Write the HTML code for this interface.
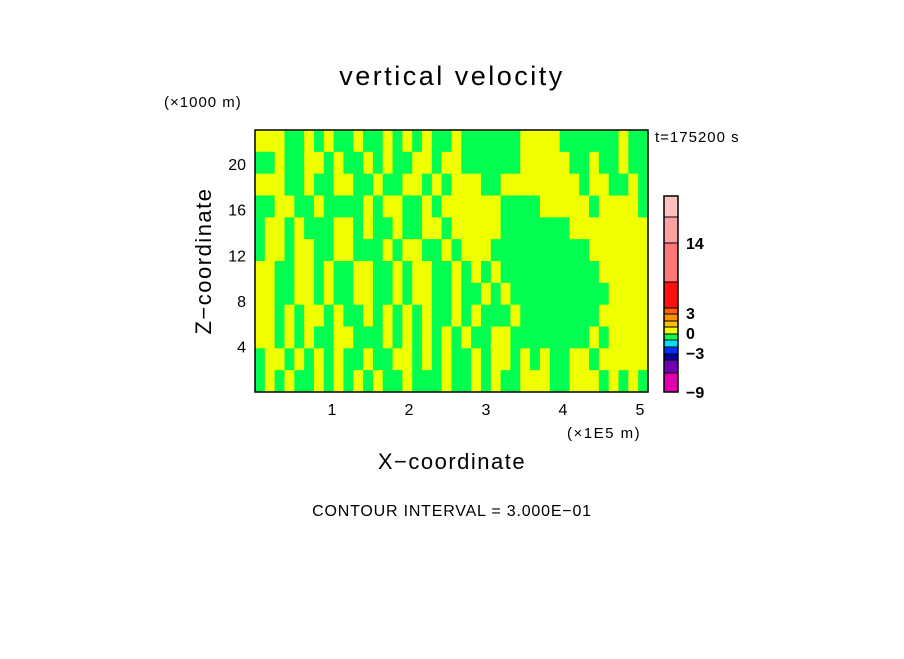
<!DOCTYPE html>
<html><head><meta charset="utf-8"><style>
body{margin:0;background:#fff}
svg text{font-family:"Liberation Sans",sans-serif;fill:#000}
</style></head><body>
<svg id="c" width="904" height="654">
<rect width="904" height="654" fill="#fff"/>
<text x="452" y="85" font-size="27" letter-spacing="2.5" text-anchor="middle">vertical velocity</text>
<text x="164" y="107" font-size="15" letter-spacing="1">(×1000 m)</text>
<text x="655" y="142" font-size="15" letter-spacing="1">t=175200 s</text>
<text transform="translate(211,261) rotate(-90)" font-size="22" letter-spacing="1.5" text-anchor="middle">Z−coordinate</text>
<text x="452" y="469" font-size="22" letter-spacing="1.5" text-anchor="middle">X−coordinate</text>
<text x="567" y="438" font-size="15" letter-spacing="1.5">(×1E5 m)</text>
<text x="452" y="516" font-size="16" letter-spacing="0.8" text-anchor="middle">CONTOUR INTERVAL = 3.000E−01</text>
<g id="field"></g>
<rect x="255" y="130" width="393" height="262" fill="none" stroke="#000" stroke-width="1.5"/>
<g id="ticks"></g>
<g id="cbar"></g>
</svg>
<script>
const xTicks=[1,2,3,4,5];
const zTicks=[4,8,12,16,20];
const fieldRows=[
"YYYGGYGYGGYGGYGYGYGGYGGGGGGYYYYGGGGGGYGG",
"GGYGGYYGYGGYGYGGYYGYYGGGGGGYYYYYGGYGGYGG",
"YYYGGYGGYYGGYGGYYGYGYYYGGYYYYYYYYGYYGGYG",
"GGYYGGYGGGGYGYYGGYGYYYYYYGGGGYYYYYGYYYYG",
"GYYGYGGGYYGYGGYGGYYGYYYYYGGGGGGGYYYYYYYY",
"GYYGYYGGYYGGGYGYYGGYGYYYGGGGGGGGGGYYYYYY",
"YYGGYYGYGGYYGGYGYYGGYGYGYGGGGGGGGGGYYYYY",
"YYGGYYGYGGYYGGYGYYGGYGGYGYGGGGGGGGGGYYYY",
"YYGYGYYGYGGYGYGYGYGGYGYGGGYGGGGGGGGYYYYY",
"YYGYGYGGYYGGGYGYGYGYGYGGYYGGGGGGGGYGYYYY",
"GYYGYGYGYGGYGGYYGYGYGGYGYYGYGYGGYYGYYYYY",
"GYGYGGYGYGYGYGGYGGGYGGYGYGGYYYGGYYYGYGYG"];
const cbarColors=["#e000b0","#7000b0","#0000a0","#0030ff","#00e0ff","#00ff50","#f0ff00","#ffc000","#ff9000","#ff6000","#ff1010","#ff7878","#ffa0a0","#ffc0c0"];
// colorbar boundary levels on the bar's (non-uniform) index scale
const cbarEdges=[0,19,32,38,45,52,58,65,71,78,84,110,149,175,196];
const cbarLabels=["−9","−3","0","3","14"];
const cbarLabelPos=[0,39,59,79,149];
const NS="http://www.w3.org/2000/svg";
const X0=255,X1=648,Y0=392,Y1=130;
const xS=v=>X0+v*77, zS=v=>Y0-v*(262/23);
const field=document.getElementById('field');
const nc=fieldRows[0].length,nr=fieldRows.length;
const cw=(X1-X0)/nc,rh=(Y0-Y1)/nr;
fieldRows.forEach((row,r)=>{for(let c=0;c<nc;c++){
 const e=document.createElementNS(NS,'rect');
 
 
 e.setAttribute('x',X0+c*cw);e.setAttribute('y',Y1+r*rh);
 e.setAttribute('width',cw+0.5);e.setAttribute('height',rh+0.5);
 e.setAttribute('fill',row[c]==='Y'?'#f0ff00':'#00ff50');
 field.appendChild(e);}});
const tk=document.getElementById('ticks');
xTicks.forEach(v=>{const t=document.createElementNS(NS,'text');
 
 
 t.setAttribute('x',xS(v));t.setAttribute('y',415);t.setAttribute('font-size','16');t.setAttribute('text-anchor','middle');t.textContent=v;tk.appendChild(t);});
zTicks.forEach(v=>{const t=document.createElementNS(NS,'text');
 
 
 t.setAttribute('x',246);t.setAttribute('y',zS(v)+6);t.setAttribute('font-size','16');t.setAttribute('text-anchor','end');t.textContent=v;tk.appendChild(t);});
const cb=document.getElementById('cbar');
const CB0=392,CB1=196,cS=v=>CB0-(v-cbarEdges[0])/(cbarEdges[cbarEdges.length-1]-cbarEdges[0])*(CB0-CB1);
cbarColors.forEach((col,i)=>{const e=document.createElementNS(NS,'rect');
 
 
 const ya=cS(cbarEdges[i+1]),yb=cS(cbarEdges[i]);
 e.setAttribute('x',664);e.setAttribute('y',ya);e.setAttribute('width',14);e.setAttribute('height',yb-ya);
 e.setAttribute('fill',col);e.setAttribute('stroke','#000');e.setAttribute('stroke-width','1');cb.appendChild(e);});
const fr=document.createElementNS(NS,'rect');


fr.setAttribute('x',664);fr.setAttribute('y',CB1);fr.setAttribute('width',14);fr.setAttribute('height',CB0-CB1);fr.setAttribute('fill','none');fr.setAttribute('stroke','#000');fr.setAttribute('stroke-width','1.5');cb.appendChild(fr);
cbarLabels.forEach((s,i)=>{const t=document.createElementNS(NS,'text');
 
 
 t.setAttribute('x',686);t.setAttribute('y',cS(cbarLabelPos[i])+6);t.setAttribute('font-size','16');t.setAttribute('font-weight','bold');t.textContent=s;cb.appendChild(t);});
</script>
</body></html>
